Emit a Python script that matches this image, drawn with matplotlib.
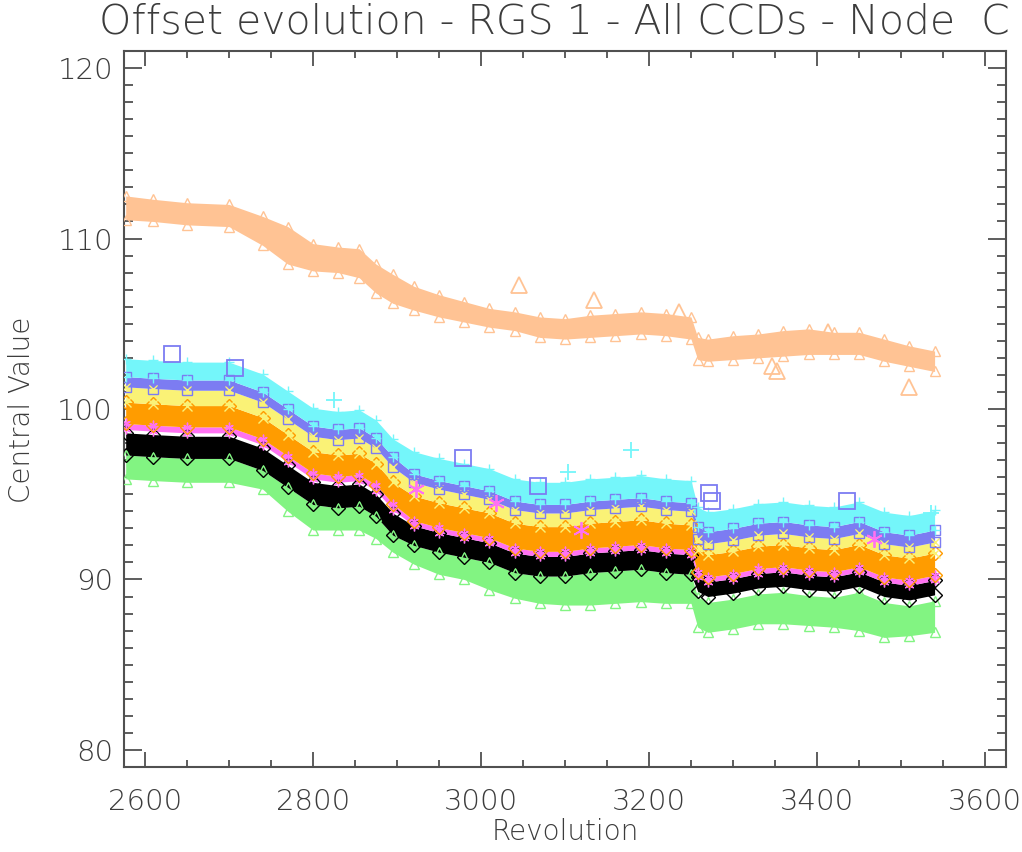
import matplotlib
matplotlib.use("Agg")
import matplotlib.pyplot as plt
from matplotlib.ticker import MultipleLocator

plt.rcParams['font.family'] = ['DejaVu Sans']
plt.rcParams['font.weight'] = 'light'

# ---------------- data ----------------
revolution = [2577, 2610, 2650, 2700, 2740, 2770, 2800, 2830, 2855, 2875, 2895,
              2920, 2950, 2980, 3010, 3040, 3070, 3100, 3130, 3160, 3190, 3220, 3250,
              3258, 3270, 3300, 3330, 3360, 3390, 3420, 3450, 3480, 3510, 3540]

peach_lo = [111.1, 111.0, 110.8, 110.7, 109.6, 108.5, 108.1, 108.0, 107.7, 106.8, 106.2,
            105.8, 105.4, 105.1, 104.8, 104.6, 104.2, 104.1, 104.2, 104.3, 104.4, 104.3, 104.1,
            102.9, 102.8, 102.9, 103.0, 103.1, 103.2, 103.2, 103.2, 102.8, 102.5, 102.2]
peach_hi = [112.5, 112.3, 112.1, 112.0, 111.3, 110.7, 109.7, 109.5, 109.4, 108.5, 107.9,
            107.2, 106.7, 106.3, 105.9, 105.7, 105.4, 105.3, 105.5, 105.6, 105.7, 105.6, 105.4,
            104.2, 104.1, 104.3, 104.4, 104.6, 104.7, 104.5, 104.5, 104.1, 103.7, 103.4]

cyan_hi = [102.95, 102.85, 102.75, 102.75, 102.05, 101.05, 100.05, 99.85, 99.95, 99.35, 98.25,
           97.5, 97.1, 96.8, 96.5, 95.9, 95.7, 95.7, 95.9, 96.0, 96.1, 95.9, 95.8,
           94.25, 93.95, 94.15, 94.45, 94.55, 94.35, 94.25, 94.55, 93.95, 93.75, 94.05]
blue_hi = [101.9, 101.8, 101.7, 101.7, 101.0, 100.0, 99.0, 98.8, 98.9, 98.3, 97.2,
           96.2, 95.8, 95.5, 95.2, 94.6, 94.4, 94.4, 94.6, 94.7, 94.8, 94.6, 94.5,
           93.1, 92.8, 93.0, 93.3, 93.4, 93.2, 93.1, 93.4, 92.8, 92.6, 92.9]
yellow_hi = [101.3, 101.2, 101.1, 101.1, 100.4, 99.4, 98.4, 98.2, 98.3, 97.7, 96.6,
             95.7, 95.3, 95.0, 94.7, 94.1, 93.9, 93.9, 94.1, 94.2, 94.3, 94.1, 94.0,
             92.4, 92.1, 92.3, 92.6, 92.7, 92.5, 92.4, 92.7, 92.1, 91.9, 92.2]
orange_hi = [100.4, 100.3, 100.2, 100.2, 99.5, 98.5, 97.5, 97.3, 97.4, 96.8, 95.7,
             94.9, 94.5, 94.2, 93.9, 93.3, 93.1, 93.1, 93.3, 93.4, 93.5, 93.3, 93.2,
             91.75, 91.45, 91.65, 91.95, 92.05, 91.85, 91.75, 92.05, 91.45, 91.25, 91.55]
magenta_hi = [99.15, 99.05, 98.95, 98.95, 98.25, 97.25, 96.25, 96.05, 96.15, 95.55, 94.45,
              93.45, 93.05, 92.75, 92.45, 91.85, 91.65, 91.65, 91.85, 91.95, 92.05, 91.85, 91.75,
              90.45, 90.15, 90.35, 90.65, 90.75, 90.55, 90.45, 90.75, 90.15, 89.95, 90.25]
magenta_lo = [98.8, 98.7, 98.6, 98.6, 97.9, 96.9, 95.9, 95.7, 95.8, 95.2, 94.1,
              93.15, 92.75, 92.45, 92.15, 91.55, 91.35, 91.35, 91.55, 91.65, 91.75, 91.55, 91.45,
              90.15, 89.85, 90.05, 90.35, 90.45, 90.25, 90.15, 90.45, 89.85, 89.65, 89.95]
black_hi = [98.6, 98.5, 98.4, 98.4, 97.7, 96.7, 95.7, 95.5, 95.6, 95.0, 93.9,
            93.15, 92.75, 92.45, 92.15, 91.55, 91.35, 91.35, 91.55, 91.65, 91.75, 91.55, 91.45,
            90.15, 89.85, 90.05, 90.35, 90.45, 90.25, 90.15, 90.45, 89.85, 89.65, 89.95]
black_lo = [97.3, 97.2, 97.1, 97.1, 96.4, 95.4, 94.4, 94.2, 94.3, 93.7, 92.6,
            92.0, 91.6, 91.3, 91.0, 90.4, 90.2, 90.2, 90.4, 90.5, 90.6, 90.4, 90.3,
            89.3, 89.0, 89.2, 89.5, 89.6, 89.4, 89.3, 89.6, 89.0, 88.8, 89.1]
green_hi = [97.3, 97.2, 97.1, 97.1, 96.4, 95.4, 94.4, 94.2, 94.3, 93.7, 92.6,
            92.0, 91.6, 91.3, 91.0, 90.4, 90.2, 90.2, 90.4, 90.5, 90.6, 90.4, 90.3,
            88.95, 88.65, 88.85, 89.15, 89.25, 89.05, 88.95, 89.25, 88.65, 88.45, 88.75]
green_lo = [95.9, 95.8, 95.7, 95.7, 95.3, 94.0, 92.9, 92.9, 92.9, 92.4, 91.6,
            90.9, 90.3, 90.0, 89.4, 88.9, 88.6, 88.5, 88.5, 88.6, 88.7, 88.6, 88.6,
            87.2, 86.9, 87.1, 87.4, 87.4, 87.3, 87.2, 87.0, 86.6, 86.7, 86.9]

# isolated outlying points
peach_out_x = [3045, 3135, 3236, 3347, 3352, 3413, 3509]
peach_out_y = [107.3, 106.4, 105.7, 102.5, 102.2, 104.5, 101.3]
blue_out_x = [2632, 2707, 2978, 3068, 3272, 3275, 3436]
blue_out_y = [103.2, 102.4, 97.1, 95.5, 95.1, 94.6, 94.6]
cyan_out_x = [2825, 3104, 3178, 3536]
cyan_out_y = [100.5, 96.3, 97.6, 93.9]
magenta_out_x = [2923, 3018, 3119, 3468]
magenta_out_y = [95.3, 94.5, 92.9, 92.4]

title = "Offset evolution - RGS 1 - All CCDs - Node  C"
xlabel = "Revolution"
ylabel = "Central Value"

# ---------------- figure ----------------
W, H = 1022, 852
fig = plt.figure(figsize=(W / 100, H / 100), dpi=100)
L, R, T, B = 124, 1006, 51, 767
ax = fig.add_axes([L / W, 1 - B / H, (R - L) / W, (B - T) / H])

series = [
    (green_lo, green_hi, '#82F482', '^'),
    (black_lo, black_hi, '#000000', 'D'),
    (magenta_lo, magenta_hi, '#FF72F2', (6, 2, 0)),
    (magenta_hi, orange_hi, '#FF9C00', 'D'),
    (orange_hi, yellow_hi, '#FAF276', 'x'),
    (yellow_hi, blue_hi, '#7C7CF2', 's'),
    (blue_hi, cyan_hi, '#74F6FA', '+'),
    (peach_lo, peach_hi, '#FFC394', '^'),
]
for lo, hi, col, mk in series:
    ax.fill_between(revolution, lo, hi, color=col, lw=0, zorder=2)
    for edge in (lo, hi):
        ax.plot(revolution, edge, ls='none', marker=mk, ms=7, mfc='none',
                mec=col, mew=1.0, zorder=3)

for xs, ys, col, mk in [
    (peach_out_x, peach_out_y, '#FFC394', '^'),
    (blue_out_x, blue_out_y, '#7C7CF2', 's'),
    (cyan_out_x, cyan_out_y, '#74F6FA', '+'),
    (magenta_out_x, magenta_out_y, '#FF72F2', (6, 2, 0)),
]:
    ax.plot(xs, ys, ls='none', marker=mk, ms=12, mfc='none', mec=col, mew=1.3, zorder=4)

ax.set_xlim(2575, 3625)
ax.set_ylim(79, 121)

axcol = '#505050'
txtcol = '#3c3c3c'
for s in ax.spines.values():
    s.set_color(axcol)
    s.set_linewidth(1.5)

ax.xaxis.set_major_locator(MultipleLocator(200))
ax.xaxis.set_minor_locator(MultipleLocator(50))
ax.yaxis.set_major_locator(MultipleLocator(10))
ax.yaxis.set_minor_locator(MultipleLocator(1))
ax.tick_params(axis='both', which='both', direction='in', top=True, right=True,
               color=axcol, width=1.3, labelcolor=txtcol, labelsize=21)
ax.tick_params(axis='x', which='major', length=11, pad=15)
ax.tick_params(axis='x', which='minor', length=5)
ax.tick_params(axis='y', which='major', length=13, pad=8)
ax.tick_params(axis='y', which='minor', length=6.5)

fig.text(554 / W, 1 - 22 / H, title, ha='center', va='center', fontsize=29.5, color=txtcol)
fig.text(565 / W, 1 - 832 / H, xlabel, ha='center', va='center', fontsize=20, color=txtcol)
fig.text(22 / W, 1 - 410 / H, ylabel, ha='center', va='center', rotation=90,
         fontsize=20, color=txtcol)

fig.savefig("out.png", dpi=100, facecolor='white')
